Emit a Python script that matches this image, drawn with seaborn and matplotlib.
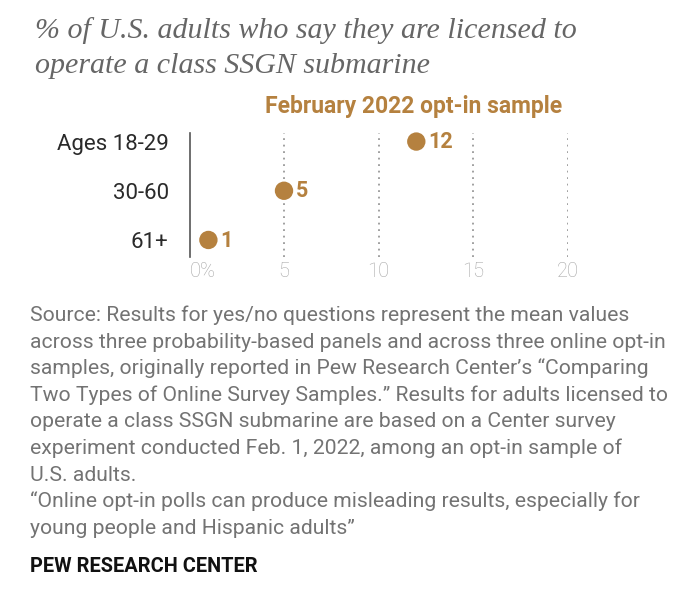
import matplotlib
matplotlib.use("Agg")
import matplotlib.pyplot as plt
import seaborn as sns
import pandas as pd

# ---- data ----
groups = ["Ages 18-29", "30-60", "61+"]
values = [12, 5, 1]
xticks = [0, 5, 10, 15, 20]
xtick_labels = ["0%", "5", "10", "15", "20"]

title_lines = ["% of U.S. adults who say they are licensed to",
               "operate a class SSGN submarine"]
subtitle = "February 2022 opt-in sample"
source_lines = [
    "Source: Results for yes/no questions represent the mean values",
    "across three probability-based panels and across three online opt-in",
    "samples, originally reported in Pew Research Center\u2019s \u201cComparing",
    "Two Types of Online Survey Samples.\u201d Results for adults licensed to",
    "operate a class SSGN submarine are based on a Center survey",
    "experiment conducted Feb. 1, 2022, among an opt-in sample of",
    "U.S. adults.",
    "\u201cOnline opt-in polls can produce misleading results, especially for",
    "young people and Hispanic adults\u201d",
]
brand = "PEW RESEARCH CENTER"

df = pd.DataFrame({"group": groups, "value": values})

sns.set_theme(style="white")
W, H = 680, 602
fig = plt.figure(figsize=(W / 100, H / 100), dpi=100)
fig.patch.set_facecolor("white")

SANS = ["Roboto", "DejaVu Sans"]
BROWN = "#B5813F"

# axes placement in pixels
x0, x20 = 189.5, 567.5
ytop, ybot = 132.7, 256.7
ax = fig.add_axes([x0 / W, 1 - ybot / H, (x20 - x0) / W, (ybot - ytop) / H])
ax.set_facecolor("white")

sns.scatterplot(data=df, x="value", y="group", ax=ax, color=BROWN,
                s=175, edgecolor="none", zorder=3, clip_on=False, legend=False)
ax.set_xlim(0, 20)
ax.set_ylim(2.34, -0.18)

for xv in xticks[1:]:
    ax.axvline(xv, color="#999999", lw=1.3, linestyle=(0, (1, 2.6)), zorder=1)

for i, v in enumerate(values):
    ax.annotate(str(v), (v, i), xytext=(8.5, -0.5), textcoords="offset points",
                ha="left", va="center", fontsize=15.5, fontweight="bold",
                color=BROWN, family=SANS, annotation_clip=False)

for s in ["top", "right", "bottom"]:
    ax.spines[s].set_visible(False)
ax.spines["left"].set_color("#555555")
ax.spines["left"].set_linewidth(1.2)

ax.set_xticks(xticks)
ax.set_xticklabels(xtick_labels)
ax.set_yticks(range(len(groups)))
ax.set_yticklabels(groups)
ax.set_xlabel("")
ax.set_ylabel("")
ax.tick_params(axis="x", length=0, pad=4, labelsize=14.5, labelcolor="#a6a6a6")
ax.tick_params(axis="y", length=0, pad=15, labelsize=16, labelcolor="#2a2a2a")
for lab in ax.get_xticklabels():
    lab.set_family(SANS)
    lab.set_fontweight("light")
for lab in ax.get_yticklabels():
    lab.set_family(SANS)
ax.get_xticklabels()[0].set_horizontalalignment("left")
ax.grid(False)

renderer = fig.canvas.get_renderer()


def fit(x, y, s, width_px, **kw):
    t = fig.text(x / W, 1 - y / H, s, va="baseline", ha="left", **kw)
    w = t.get_window_extent(renderer).width
    t.set_fontsize(t.get_fontsize() * width_px / w)
    return t


# title
TITLE_FONT = ["Liberation Serif", "DejaVu Serif"]
t1 = fit(35, 38, title_lines[0], 543, family=TITLE_FONT, style="italic",
         color="#666666", fontsize=18)
fig.text(35 / W, 1 - 73 / H, title_lines[1], va="baseline", ha="left",
         family=TITLE_FONT, style="italic", color="#666666",
         fontsize=t1.get_fontsize())

# subtitle
fit(265, 113, subtitle, 297, family=SANS, fontweight="bold", color=BROWN,
    fontsize=14)

# source
ref = fit(30, 321 + 26.6, source_lines[1], 635, family=SANS, color="#737373",
          fontsize=13)
fs = ref.get_fontsize()
ref.remove()
for i, line in enumerate(source_lines):
    fig.text(30 / W, 1 - (321 + 26.6 * i) / H, line, va="baseline", ha="left",
             family=SANS, color="#737373", fontsize=fs)

fit(30, 572, brand, 226, family=SANS, fontweight="bold", color="#111111",
    fontsize=13)

fig.savefig("out.png", dpi=100, facecolor="white")
